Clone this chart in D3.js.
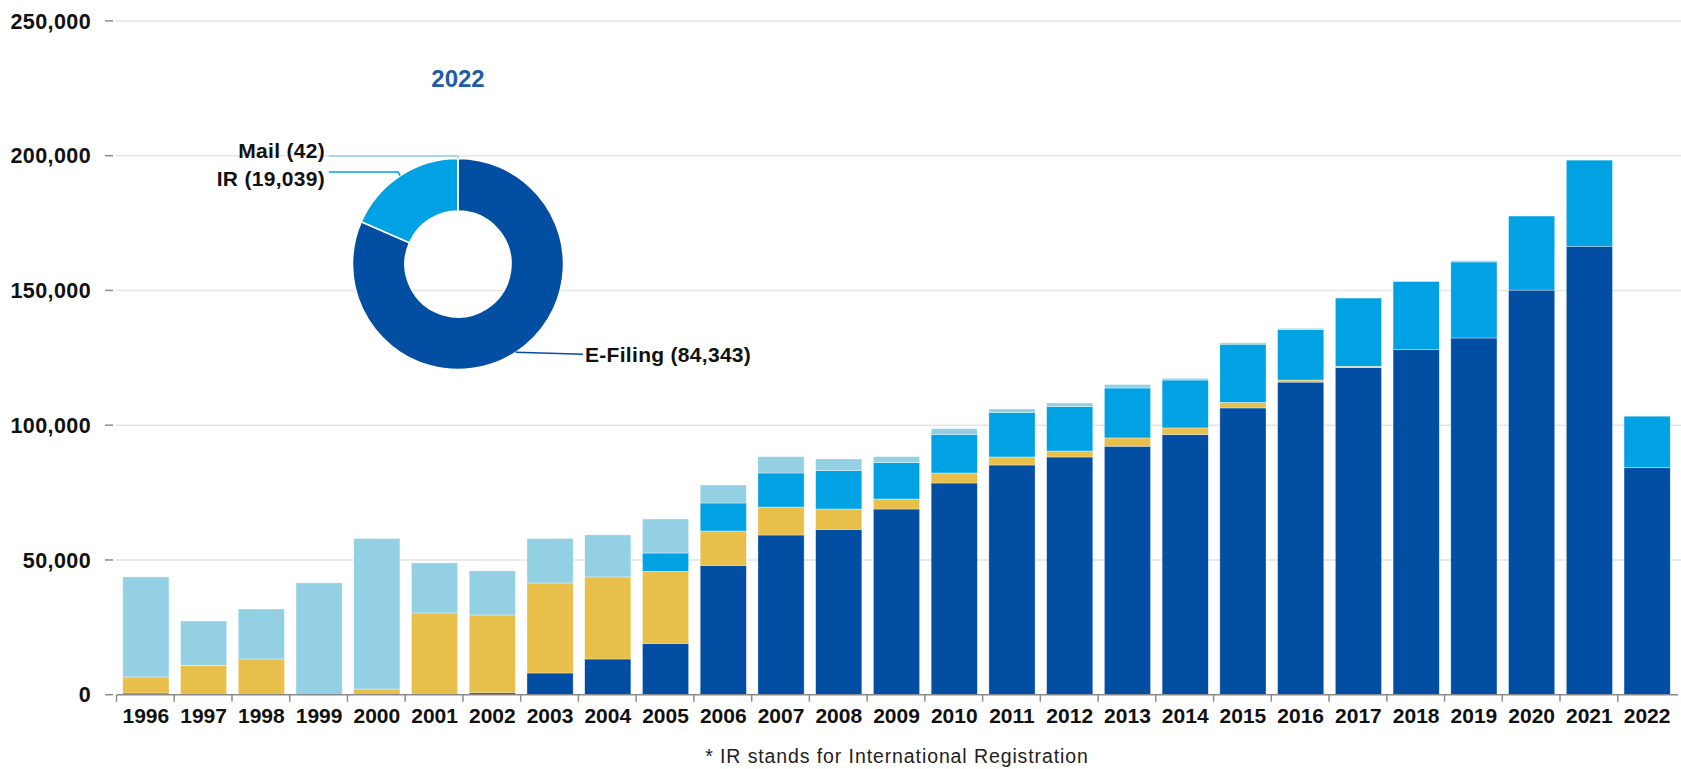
<!DOCTYPE html>
<html>
<head>
<meta charset="utf-8">
<script src="https://cdn.jsdelivr.net/npm/d3@7"></script>
<style>
  body { margin: 0; background: #fff; }
  svg { display: block; font-family: "Liberation Sans", Arial, sans-serif; }
</style>
</head>
<body>
<svg id="chart" width="1681" height="769"></svg>
<script>
// values
const years = [1996, 1997, 1998, 1999, 2000, 2001, 2002, 2003, 2004, 2005, 2006, 2007, 2008, 2009,
  2010, 2011, 2012, 2013, 2014, 2015, 2016, 2017, 2018, 2019, 2020, 2021, 2022];
const eFiling = [600, 0, 0, 0, 0, 0, 700, 8050, 13250, 19060, 48000, 59250, 61360, 68900,
  78550, 85230, 88200, 92200, 96550, 106400, 115990, 121360, 128010, 132360, 150130, 166410, 84343];
const media = [6000, 10900, 13250, 0, 2100, 30330, 28900, 33420, 30450, 26710, 12740, 10390, 7540, 3710,
  3710, 2970, 2220, 3070, 2430, 2040, 760, 510, 0, 0, 0, 0, 0];
const ir = [0, 0, 0, 0, 0, 0, 0, 0, 0, 6800, 10390, 12620, 14230, 13490,
  14350, 16570, 16460, 18540, 17770, 21610, 18670, 25330, 25300, 28210, 27470, 31930, 19039];
const mail = [37100, 16460, 18550, 41470, 55840, 18570, 16340, 16470, 15600, 12630, 6680, 6070, 4330, 2230,
  2100, 1240, 1360, 1280, 640, 510, 510, 100, 0, 500, 0, 0, 42];
const yTicks = [0, 50000, 100000, 150000, 200000, 250000];
const donutYear = 2022;
const donutNames = ["E-Filing", "IR", "Mail"];
const footnote = "* IR stands for International Registration";

const keys = ["eFiling", "media", "ir", "mail"];
const colors = { eFiling: "#024ea2", media: "#e8bf4a", ir: "#00a2e3", mail: "#93d0e3" };

const width = 1681, height = 769;
const plotL = 117, plotR = 1676, plotB = 694.7, plotT = 20.9;

const table = years.map((yr, i) => ({
  year: yr, eFiling: eFiling[i], media: media[i], ir: ir[i], mail: mail[i]
}));

const svg = d3.select("#chart");

const x = d3.scaleBand()
  .domain(years)
  .range([plotL, plotR])
  .paddingInner(0.2)
  .paddingOuter(0.1);

const y = d3.scaleLinear()
  .domain([0, 250000])
  .range([plotB, plotT]);

const fmt = d3.format(",");

// gridlines
svg.append("g")
  .selectAll("line")
  .data(yTicks.filter(d => d > 0))
  .join("line")
    .attr("x1", plotL - 1)
    .attr("x2", width)
    .attr("y1", d => y(d))
    .attr("y2", d => y(d))
    .attr("stroke", "#e5e5e5")
    .attr("stroke-width", 1.5);

// y ticks + labels
const yg = svg.append("g");
yg.selectAll("line")
  .data(yTicks)
  .join("line")
    .attr("x1", plotL - 12)
    .attr("x2", plotL - 4)
    .attr("y1", d => y(d))
    .attr("y2", d => y(d))
    .attr("stroke", "#8a8a8a")
    .attr("stroke-width", 1.5);
yg.selectAll("text")
  .data(yTicks)
  .join("text")
    .attr("x", plotL - 26)
    .attr("y", d => y(d))
    .attr("dy", "0.36em")
    .attr("text-anchor", "end")
    .attr("font-size", 21.5)
    .attr("letter-spacing", 0.4)
    .attr("font-weight", "bold")
    .attr("fill", "#111")
    .text(d => fmt(d));

// stacked bars
const series = d3.stack().keys(keys)(table);
svg.append("g")
  .selectAll("g")
  .data(series)
  .join("g")
    .attr("fill", d => colors[d.key])
  .selectAll("rect")
  .data(d => d.filter(s => s[1] - s[0] > 0))
  .join("rect")
    .attr("x", d => x(d.data.year))
    .attr("width", x.bandwidth())
    .attr("y", d => y(d[1]))
    .attr("height", d => y(d[0]) - y(d[1]))
    .attr("stroke", "#ffffff")
    .attr("stroke-width", 0.6)
    .attr("stroke-opacity", 0.6);

// x axis
const xg = svg.append("g");
xg.append("line")
  .attr("x1", plotL)
  .attr("x2", plotR + 2)
  .attr("y1", plotB)
  .attr("y2", plotB)
  .attr("stroke", "#8a8a8a")
  .attr("stroke-width", 1.5);
xg.selectAll("line.tick")
  .data(years)
  .join("line")
    .attr("class", "tick")
    .attr("x1", d => x(d) - x.step() * x.paddingOuter() - 0.5)
    .attr("x2", d => x(d) - x.step() * x.paddingOuter() - 0.5)
    .attr("y1", plotB)
    .attr("y2", plotB + 7)
    .attr("stroke", "#8a8a8a")
    .attr("stroke-width", 1.5);
xg.selectAll("text")
  .data(years)
  .join("text")
    .attr("x", d => x(d) + x.bandwidth() / 2)
    .attr("y", 723)
    .attr("text-anchor", "middle")
    .attr("font-size", 21)
    .attr("font-weight", "bold")
    .attr("fill", "#111")
    .text(d => d);

svg.append("text")
  .attr("x", 897)
  .attr("y", 763)
  .attr("text-anchor", "middle")
  .attr("font-size", 19.5)
  .attr("letter-spacing", 0.9)
  .attr("fill", "#222")
  .text(footnote);

// donut for the last year
const idx = years.indexOf(donutYear);
const donutData = [
  { name: donutNames[0], value: eFiling[idx], color: colors.eFiling },
  { name: donutNames[1], value: ir[idx], color: colors.ir },
  { name: donutNames[2], value: mail[idx], color: colors.mail }
];
const cx = 458, cy = 264, rOut = 105.5, rIn = 53;

svg.append("text")
  .attr("x", cx)
  .attr("y", 87)
  .attr("text-anchor", "middle")
  .attr("font-size", 24)
  .attr("font-weight", "bold")
  .attr("fill", "#1d5ca6")
  .text(donutYear);

const pie = d3.pie().sort(null).value(d => d.value);
const arcs = pie(donutData);
const arc = d3.arc().innerRadius(rIn).outerRadius(rOut);

const donut = svg.append("g").attr("transform", `translate(${cx},${cy})`);
donut.selectAll("path")
  .data(arcs)
  .join("path")
    .attr("d", arc)
    .attr("fill", d => d.data.color)
    .attr("stroke", "#fff")
    .attr("stroke-width", 1.5);

// leader lines + labels
const outerPt = a => {
  const m = (a.startAngle + a.endAngle) / 2;
  return [cx + rOut * Math.sin(m), cy - rOut * Math.cos(m)];
};
const labelFor = d => `${d.data.name} (${fmt(d.data.value)})`;
const leftEnd = 329;
const leaders = [
  { a: arcs[0], pts: p => [p, [583, p[1] + 2]], tx: 585, ty: p => p[1] + 2, anchor: "start" },
  { a: arcs[1], pts: p => [p, [p[0] - 2, 172], [leftEnd, 172]], tx: leftEnd - 4, ty: () => 178, anchor: "end" },
  { a: arcs[2], pts: p => [p, [p[0], 156], [leftEnd, 156]], tx: leftEnd - 4, ty: () => 150, anchor: "end" }
];
leaders.forEach(l => {
  const p = outerPt(l.a);
  svg.append("path")
    .attr("d", d3.line()(l.pts(p)))
    .attr("fill", "none")
    .attr("stroke", l.a.data.color)
    .attr("stroke-width", 1.5);
  svg.append("text")
    .attr("x", l.tx)
    .attr("y", l.ty(p))
    .attr("dy", "0.36em")
    .attr("text-anchor", l.anchor)
    .attr("font-size", 21)
    .attr("letter-spacing", 0.3)
    .attr("font-weight", "bold")
    .attr("fill", "#111")
    .text(labelFor(l.a));
});
</script>
</body>
</html>
